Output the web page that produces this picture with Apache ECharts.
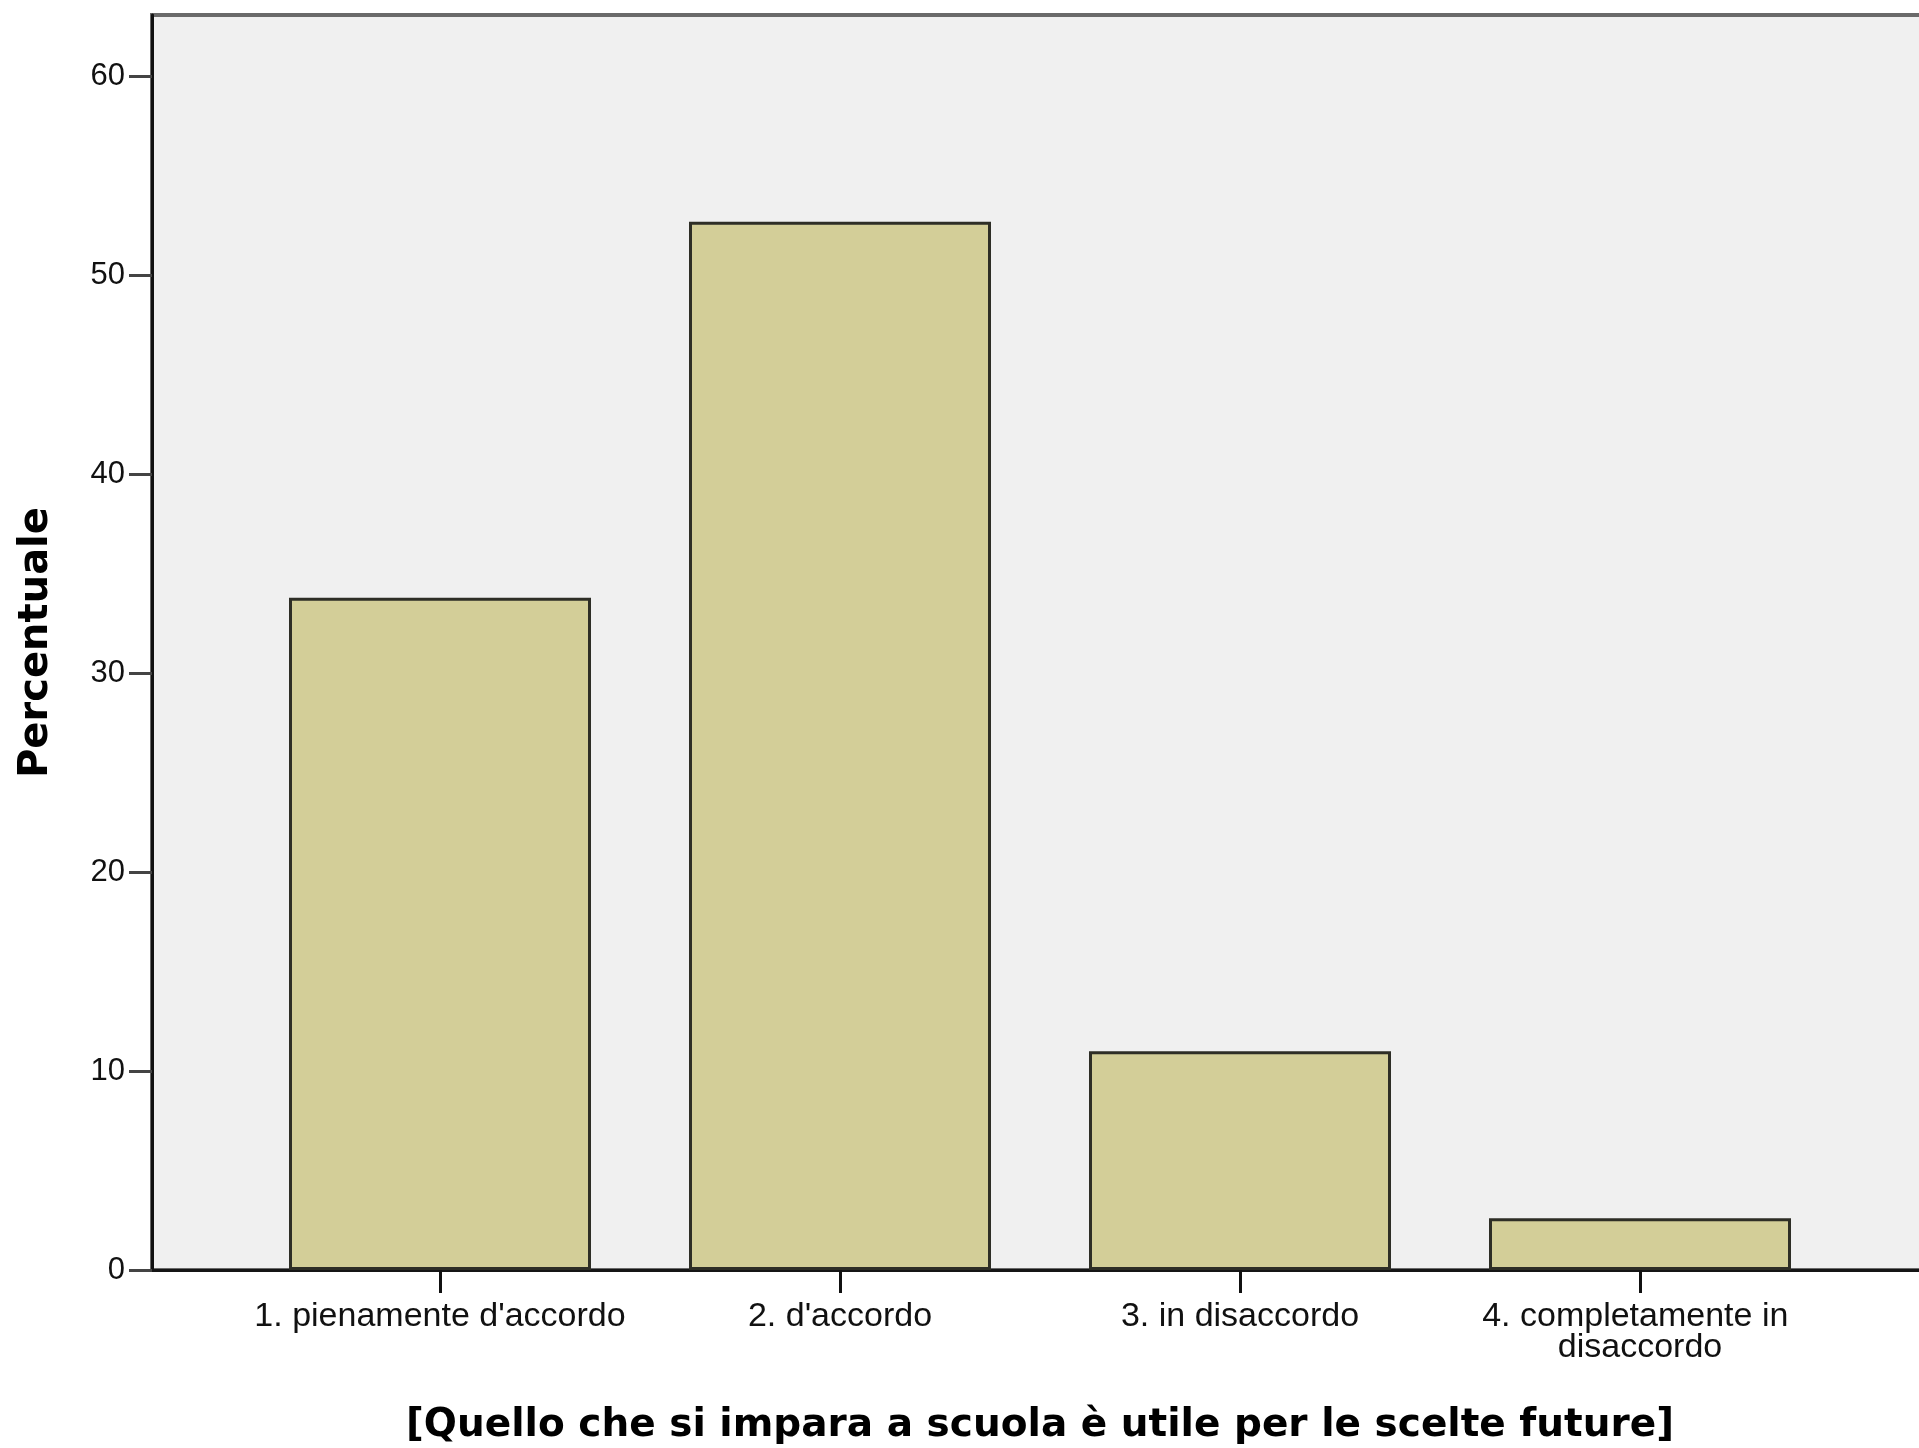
<!DOCTYPE html>
<html>
<head>
<meta charset="utf-8">
<script src="https://cdn.jsdelivr.net/npm/echarts@6/dist/echarts.min.js"></script>
<style>
  html, body { margin: 0; padding: 0; background: #fff; }
  #chart { width: 1919px; height: 1448px; }
</style>
</head>
<body>
<div id="chart"></div>
<script>
// categorie e valori (percentuali)
const categories = [
  "1. pienamente d'accordo",
  "2. d'accordo",
  "3. in disaccordo",
  '4. completamente in disaccordo'
]
const percentValues = [33.8, 52.7, 11.0, 2.6]
const yTicks = [0, 10, 20, 30, 40, 50, 60]
const yTitle = 'Percentuale'
const xTitle = '[Quello che si impara a scuola è utile per le scelte future]'

const yMax = 63.1
const labelFont = '"Liberation Sans", Arial, sans-serif'
const titleFont = '"DejaVu Sans", Verdana, sans-serif'

const chart = echarts.init(document.getElementById('chart'))

const option = {
  animation: false,
  backgroundColor: '#ffffff',
  grid: [
    // sfondo grigio + asse y + linea asse x
    {
      left: 152,
      right: -10,
      top: 15,
      bottom: 178,
      outerBoundsMode: 'none',
      show: true,
      backgroundColor: '#f0f0f0',
      borderColor: '#6a6a6a',
      borderWidth: 4
    },
    // barre
    {
      left: 240,
      width: 1600,
      top: 15,
      bottom: 178,
      outerBoundsMode: 'none'
    }
  ],
  xAxis: [
    {
      gridIndex: 0,
      type: 'value',
      min: 0,
      max: 1,
      axisLine: { show: true, onZero: false, lineStyle: { color: '#151515', width: 3 } },
      axisTick: { show: false },
      axisLabel: { show: false },
      splitLine: { show: false }
    },
    {
      gridIndex: 1,
      type: 'category',
      data: categories,
      axisLine: { show: false },
      axisTick: {
        show: true,
        alignWithLabel: true,
        length: 23,
        lineStyle: { color: '#111', width: 3 }
      },
      axisLabel: {
        color: '#111',
        fontFamily: labelFont,
        fontSize: 34,
        lineHeight: 31,
        margin: 31,
        interval: 0,
        width: 380,
        overflow: 'break'
      },
      name: xTitle,
      nameLocation: 'middle',
      nameGap: 136,
      nameTextStyle: {
        color: '#000',
        fontFamily: titleFont,
        fontWeight: 'bold',
        fontSize: 39
      }
    }
  ],
  yAxis: [
    {
      gridIndex: 0,
      type: 'value',
      min: 0,
      max: yMax,
      interval: 10,
      axisLine: { show: true, lineStyle: { color: '#111', width: 3 } },
      axisTick: {
        show: true,
        length: 23,
        customValues: yTicks,
        lineStyle: { color: '#444', width: 3 }
      },
      axisLabel: {
        color: '#111',
        fontFamily: labelFont,
        fontSize: 31,
        margin: 27,
        customValues: yTicks,
        formatter: (v) => (v % 10 === 0 ? String(v) : '')
      },
      splitLine: { show: false },
      name: yTitle,
      nameLocation: 'middle',
      nameRotate: 90,
      nameGap: 95,
      nameTextStyle: {
        color: '#000',
        fontFamily: titleFont,
        fontWeight: 'bold',
        fontSize: 40
      }
    },
    {
      gridIndex: 1,
      type: 'value',
      min: 0,
      max: yMax,
      show: false
    }
  ],
  series: [
    {
      type: 'bar',
      xAxisIndex: 1,
      yAxisIndex: 1,
      data: percentValues,
      barWidth: 302,
      itemStyle: {
        color: '#d3ce98',
        borderColor: '#2e2e26',
        borderWidth: 3
      }
    }
  ]
}

chart.setOption(option)
</script>
</body>
</html>
